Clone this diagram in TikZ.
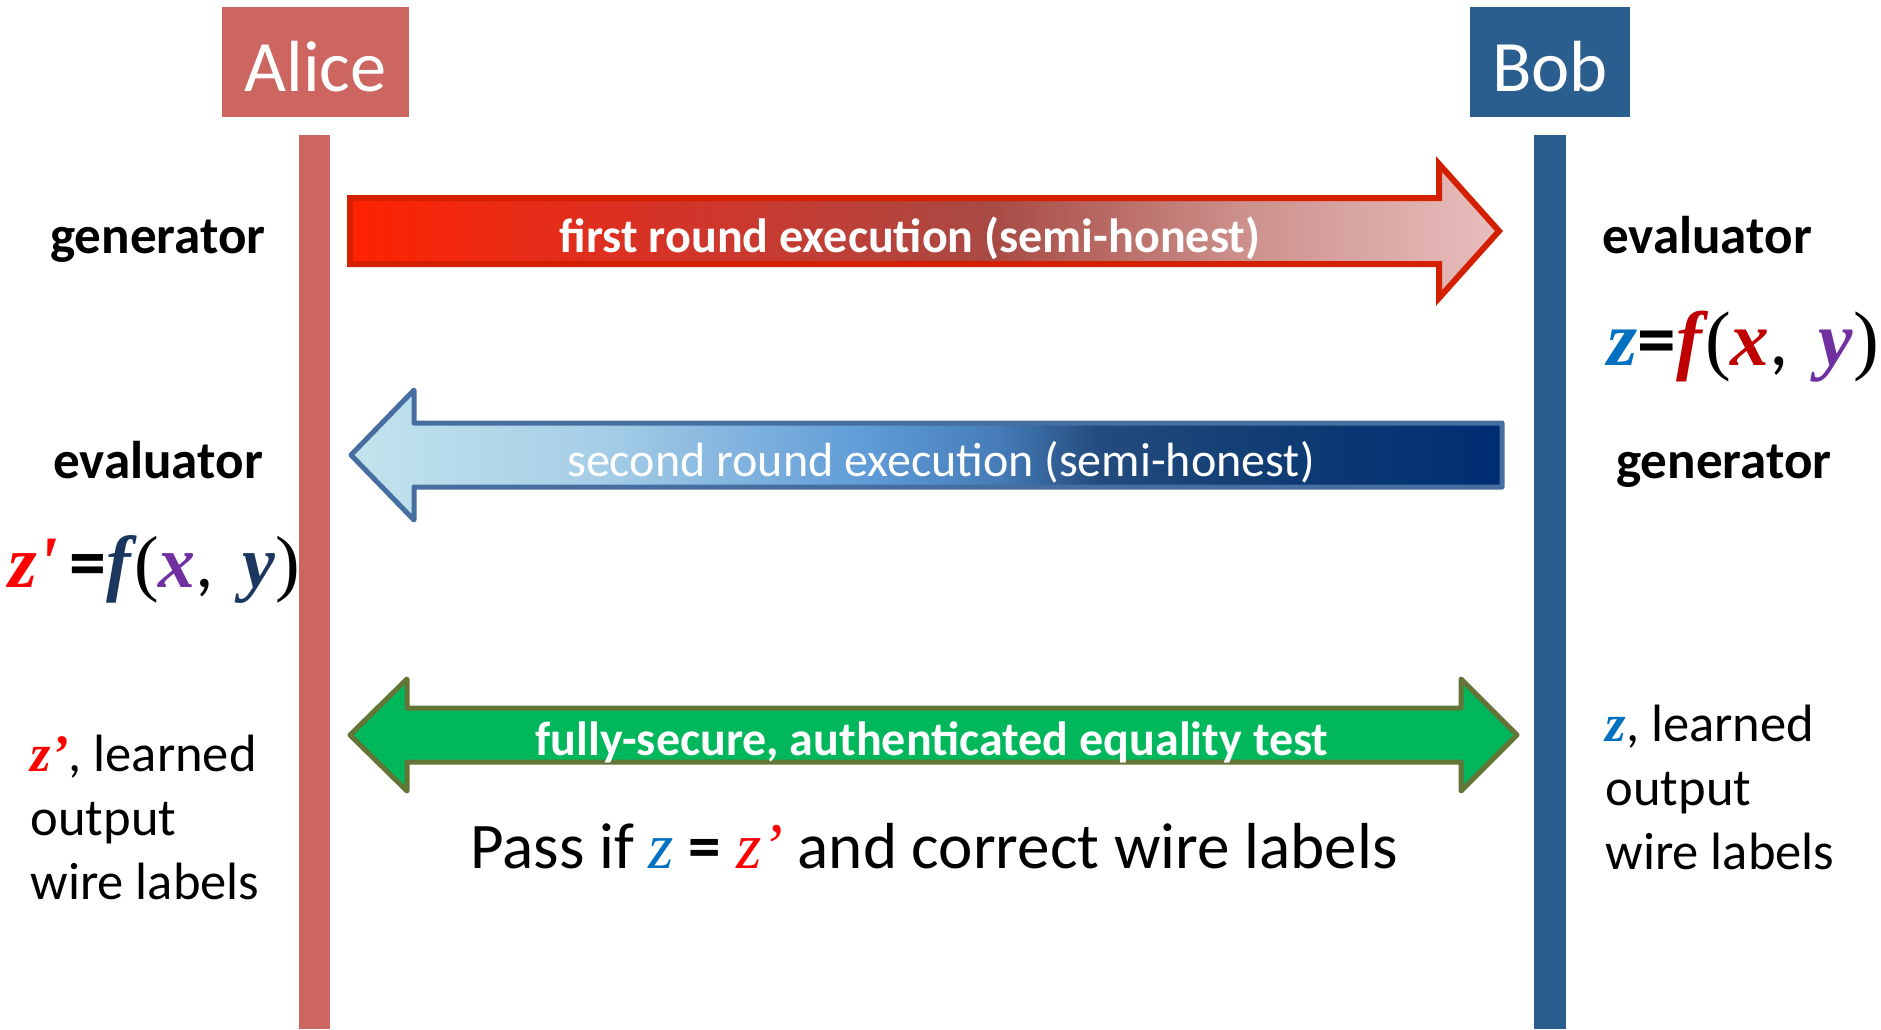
\documentclass[tikz,border=0pt]{standalone}
\usepackage{fontspec}
\setmainfont{Carlito}
\newfontfamily\formfont{Liberation Serif}

% palette
\definecolor{alicecol}{RGB}{205,102,96}
\definecolor{bobcol}{RGB}{42,94,142}
\definecolor{zred}{RGB}{255,0,0}
\definecolor{fred}{RGB}{192,0,0}
\definecolor{zblue}{RGB}{0,112,192}
\definecolor{ypurple}{RGB}{112,48,160}
\definecolor{fnavy}{RGB}{28,55,95}
\definecolor{redline}{RGB}{210,32,0}
\definecolor{blueline}{RGB}{70,110,160}
\definecolor{greenfill}{RGB}{0,183,92}
\definecolor{greenline}{RGB}{100,118,55}
% first-round gradient stops
\definecolor{rA}{RGB}{255,34,0}
\definecolor{rB}{RGB}{215,50,38}
\definecolor{rC}{RGB}{168,74,68}
\definecolor{rD}{RGB}{205,145,140}
\definecolor{rE}{RGB}{232,190,190}
% second-round gradient stops
\definecolor{bA}{RGB}{195,228,238}
\definecolor{bB}{RGB}{165,205,230}
\definecolor{bC}{RGB}{95,155,215}
\definecolor{bD}{RGB}{70,125,185}
\definecolor{bE}{RGB}{35,75,125}
\definecolor{bF}{RGB}{15,60,115}
\definecolor{bG}{RGB}{0,45,115}

\pgfdeclarehorizontalshading{firstround}{100bp}{color(0bp)=(rA); color(25bp)=(rA); color(38bp)=(rB); color(53bp)=(rC); color(64bp)=(rD); color(75bp)=(rE); color(100bp)=(rE)}
\pgfdeclarehorizontalshading{secondround}{100bp}{color(0bp)=(bA); color(25bp)=(bA); color(36bp)=(bB); color(47.5bp)=(bC); color(53bp)=(bD); color(57.5bp)=(bE); color(65.5bp)=(bF); color(75bp)=(bG); color(100bp)=(bG)}

% italic variables and plain parentheses of the formulas
\newcommand{\var}[2]{\textcolor{#1}{\formfont\bfseries\itshape #2}}
\newcommand{\vlight}[2]{\textcolor{#1}{\formfont\itshape #2}}
\newcommand{\lpar}{{\formfont (}}
\newcommand{\rpar}{{\formfont )}}

\tikzset{
  party/.style={minimum height=1.10cm, inner sep=0pt, draw=none},
  partyname/.style={anchor=base, inner sep=0pt, text=white, font=\fontsize{20.6pt}{24pt}\selectfont},
  role/.style={anchor=base, inner sep=0pt, font=\bfseries\fontsize{15.1pt}{18pt}\selectfont},
  arrowtext/.style={anchor=base, inner sep=0pt, text=white, font=\fontsize{13.66pt}{16pt}\selectfont},
  boldarrowtext/.style={arrowtext, font=\bfseries\fontsize{13.66pt}{16pt}\selectfont},
  sidetext/.style={anchor=base west, inner sep=0pt, font=\fontsize{14.94pt}{18pt}\selectfont},
  formula/.style={anchor=base west, inner sep=0pt, font=\fontsize{21pt}{24pt}\selectfont},
  passtext/.style={anchor=base, inner sep=0pt, font=\fontsize{18.5pt}{22pt}\selectfont},
}

\begin{document}
\begin{tikzpicture}[x=0.01cm, y=-0.01cm]
  \useasboundingbox (0,0) rectangle (1881,1029);
  \fill[white] (0,0) rectangle (1881,1029);

  % parties and their lifelines
  \node[party, minimum width=1.87cm, fill=alicecol] (alice) at (315.5,62) {};
  \node[partyname] (alicename) at (315.5,91) {Alice};
  \node[party, minimum width=1.60cm, fill=bobcol] (bob) at (1550,62) {};
  \node[partyname] (bobname) at (1550,91) {Bob};
  \fill[alicecol] (299,135) rectangle (330,1029);
  \fill[bobcol] (1534,135) rectangle (1566,1029);

  % first round: Alice -> Bob
  \draw[shade, shading=firstround, draw=redline, line width=0.6mm, line join=miter]
    (350,198) -- (1439,198) -- (1439,164) -- (1499,231) -- (1439,298) -- (1439,264) -- (350,264) -- cycle;
  \node[boldarrowtext] (first) at (910,252) {first round execution (semi-honest)};

  % second round: Bob -> Alice
  \draw[shade, shading=secondround, draw=blueline, line width=0.5mm, line join=round]
    (351,455) -- (414,390) -- (414,423) -- (1502,423) -- (1502,487) -- (414,487) -- (414,520) -- cycle;
  \node[arrowtext] (second) at (941,476) {second round execution (semi-honest)};

  % equality test, both directions
  \draw[fill=greenfill, draw=greenline, line width=0.5mm, line join=round]
    (350,735) -- (407,679) -- (407,708) -- (1461,708) -- (1461,679) -- (1517,735)
    -- (1461,791) -- (1461,762) -- (407,762) -- (407,791) -- cycle;
  \node[boldarrowtext] (equality) at (932,755) {fully-secure, authenticated equality test};
  \node[passtext] (pass) at (934,868)
    {Pass if \vlight{zblue}{z} \textbf{=} \vlight{zred}{z’} and correct wire labels};

  % roles
  \node[role] (agen) at (158,253) {generator};
  \node[role] (aeval) at (158,478) {evaluator};
  \node[role] (beval) at (1707,253) {evaluator};
  \node[role] (bgen) at (1724,478) {generator};

  % outputs of the two evaluations
  \node[formula, font=\fontsize{22pt}{25pt}\selectfont] (bobf) at (1607,365)
    {\var{zblue}{z}\textbf{=}\var{fred}{f}\hspace{0.03cm}\lpar\var{fred}{x},\hspace{0.3cm}\var{ypurple}{y}\rpar};
  \node[formula] (alicef) at (8,587)
    {\var{zred}{z\textquotesingle}\hspace{0.12cm}\textbf{=}\var{fnavy}{f}\hspace{0.03cm}\lpar\var{ypurple}{x},\hspace{0.28cm}\var{fnavy}{y}\rpar};

  % learned labels
  \node[sidetext] (al1) at (30,771) {\var{zred}{z’}, learned};
  \node[sidetext] (al2) at (30,835) {output};
  \node[sidetext] (al3) at (30,899) {wire labels};
  \node[sidetext] (bl1) at (1605,741) {\var{zblue}{z}, learned};
  \node[sidetext] (bl2) at (1605,805) {output};
  \node[sidetext] (bl3) at (1605,869) {wire labels};
\end{tikzpicture}
\end{document}
